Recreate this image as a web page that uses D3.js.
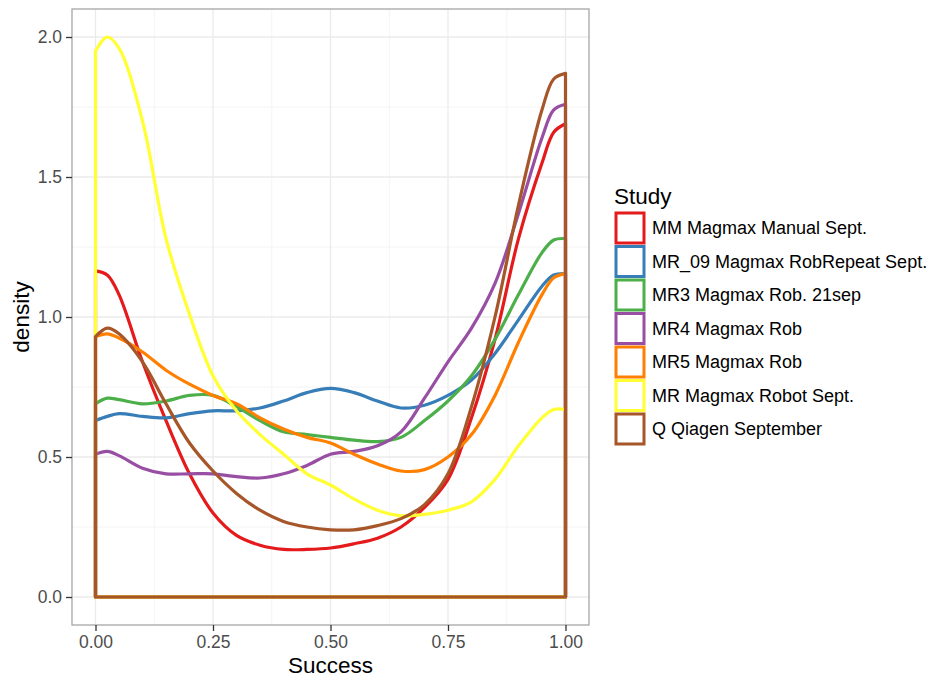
<!DOCTYPE html>
<html>
<head>
<meta charset="utf-8">
<script src="https://cdn.jsdelivr.net/npm/d3@7"></script>
<style>
  body { margin: 0; background: #fff; }
  svg { display: block; font-family: 'Liberation Sans', Arial, sans-serif; }
</style>
</head>
<body>
<svg id="chart" width="930" height="680"></svg>
<script>
// density estimates, one array per study
const successX = [0, 0.025, 0.05, 0.1, 0.15, 0.2, 0.25, 0.3, 0.35, 0.4, 0.45, 0.5, 0.55, 0.6, 0.65, 0.7, 0.75, 0.8, 0.85, 0.9, 0.95, 0.975, 1]

const studies = ['MM Magmax Manual Sept.', 'MR_09 Magmax RobRepeat Sept.', 'MR3 Magmax Rob. 21sep',
  'MR4 Magmax Rob', 'MR5 Magmax Rob', 'MR Magmax Robot Sept.', 'Q Qiagen September']

const densityMM = [1.165, 1.15, 1.08, 0.84, 0.63, 0.44, 0.30, 0.22, 0.185, 0.17, 0.17, 0.175, 0.19, 0.21, 0.25, 0.32, 0.42, 0.64, 0.92, 1.28, 1.55, 1.66, 1.69]
const densityMR09 = [0.63, 0.645, 0.655, 0.645, 0.64, 0.655, 0.665, 0.665, 0.675, 0.70, 0.73, 0.745, 0.73, 0.70, 0.675, 0.685, 0.72, 0.775, 0.87, 0.99, 1.11, 1.15, 1.155]
const densityMR3 = [0.69, 0.71, 0.705, 0.69, 0.70, 0.72, 0.72, 0.68, 0.63, 0.59, 0.58, 0.57, 0.56, 0.555, 0.57, 0.63, 0.70, 0.79, 0.92, 1.08, 1.23, 1.275, 1.28]
const densityMR4 = [0.51, 0.52, 0.505, 0.46, 0.44, 0.44, 0.44, 0.43, 0.425, 0.44, 0.47, 0.51, 0.52, 0.54, 0.59, 0.71, 0.84, 0.96, 1.12, 1.37, 1.64, 1.74, 1.76]
const densityMR5 = [0.93, 0.94, 0.925, 0.875, 0.81, 0.76, 0.72, 0.69, 0.64, 0.60, 0.57, 0.55, 0.51, 0.475, 0.45, 0.455, 0.50, 0.58, 0.72, 0.91, 1.08, 1.14, 1.155]
const densityMR = [1.95, 2.0, 1.96, 1.70, 1.28, 1.01, 0.79, 0.665, 0.58, 0.51, 0.44, 0.40, 0.35, 0.31, 0.29, 0.295, 0.31, 0.34, 0.42, 0.54, 0.64, 0.67, 0.67]
const densityQ = [0.93, 0.96, 0.94, 0.84, 0.69, 0.55, 0.45, 0.37, 0.31, 0.27, 0.25, 0.24, 0.24, 0.255, 0.28, 0.33, 0.44, 0.68, 1.0, 1.40, 1.74, 1.85, 1.87]

const xTicks = [0, 0.25, 0.5, 0.75, 1]
const yTicks = [0, 0.5, 1, 1.5, 2]
const colors = ['#E41A1C', '#377EB8', '#4DAF4A', '#984EA3', '#FF7F00', '#FFFF33', '#A65628']

const series = [densityMM, densityMR09, densityMR3, densityMR4, densityMR5, densityMR, densityQ]

const panel = { left: 72, top: 9, right: 589, bottom: 625 }

const svg = d3.select('#chart')

const x = d3.scaleLinear().domain([-0.05, 1.05]).range([panel.left, panel.right])
const y = d3.scaleLinear().domain([-0.1, 2.1]).range([panel.bottom, panel.top])

// grid
const grid = svg.append('g')
const minorX = d3.range(0, 4).map((i) => i * 0.25 + 0.125)
const minorY = d3.range(0, 4).map((i) => i * 0.5 + 0.25)

grid.selectAll('.minor-x').data(minorX).join('line')
  .attr('x1', (d) => x(d)).attr('x2', (d) => x(d))
  .attr('y1', panel.top).attr('y2', panel.bottom)
  .attr('stroke', '#f4f4f4').attr('stroke-width', 1)
grid.selectAll('.minor-y').data(minorY).join('line')
  .attr('y1', (d) => y(d)).attr('y2', (d) => y(d))
  .attr('x1', panel.left).attr('x2', panel.right)
  .attr('stroke', '#f4f4f4').attr('stroke-width', 1)
grid.selectAll('.major-x').data(xTicks).join('line')
  .attr('x1', (d) => x(d)).attr('x2', (d) => x(d))
  .attr('y1', panel.top).attr('y2', panel.bottom)
  .attr('stroke', '#ebebeb').attr('stroke-width', 1.3)
grid.selectAll('.major-y').data(yTicks).join('line')
  .attr('y1', (d) => y(d)).attr('y2', (d) => y(d))
  .attr('x1', panel.left).attr('x2', panel.right)
  .attr('stroke', '#ebebeb').attr('stroke-width', 1.3)

// density outlines: (0,0) up, along the curve, down to (1,0), closed
const curve = d3.line()
  .x((d) => x(d[0]))
  .y((d) => y(d[1]))
  .curve(d3.curveCatmullRom.alpha(0.5))

const outline = (values) => {
  const pts = successX.map((s, i) => [s, values[i]])
  const body = curve(pts).replace(/^M/, 'L')
  return `M${x(0)},${y(0)}${body}L${x(1)},${y(0)}Z`
}

svg.append('g')
  .selectAll('path')
  .data(series)
  .join('path')
  .attr('d', (d) => outline(d))
  .attr('fill', 'none')
  .attr('stroke', (d, i) => colors[i])
  .attr('stroke-width', 3.2)
  .attr('stroke-linejoin', 'round')

// panel border
svg.append('rect')
  .attr('x', panel.left).attr('y', panel.top)
  .attr('width', panel.right - panel.left).attr('height', panel.bottom - panel.top)
  .attr('fill', 'none').attr('stroke', '#a6a6a6').attr('stroke-width', 1.3)

// axes
const axisX = svg.append('g')
  .attr('transform', `translate(0, ${panel.bottom})`)
  .call(d3.axisBottom(x).tickValues(xTicks).tickFormat(d3.format('.2f')).tickSize(6).tickPadding(5))
const axisY = svg.append('g')
  .attr('transform', `translate(${panel.left}, 0)`)
  .call(d3.axisLeft(y).tickValues(yTicks).tickFormat(d3.format('.1f')).tickSize(6).tickPadding(4))

for (const a of [axisX, axisY]) {
  a.select('.domain').remove()
  a.selectAll('.tick line').attr('stroke', '#333').attr('stroke-width', 1.3)
  a.selectAll('.tick text')
    .attr('fill', '#4d4d4d')
    .style('font-size', '17.5px')
    .style('font-family', "'Liberation Sans', Arial, sans-serif")
}

svg.append('text')
  .attr('x', (panel.left + panel.right) / 2)
  .attr('y', 673)
  .attr('text-anchor', 'middle')
  .style('font-size', '22.5px')
  .text('Success')

svg.append('text')
  .attr('transform', `translate(29, ${(panel.top + panel.bottom) / 2}) rotate(-90)`)
  .attr('text-anchor', 'middle')
  .style('font-size', '22.5px')
  .text('density')

// legend
const legend = svg.append('g')

legend.append('text')
  .attr('x', 614)
  .attr('y', 204)
  .style('font-size', '22.5px')
  .text('Study')

const item = legend.selectAll('.item')
  .data(studies)
  .join('g')
  .attr('transform', (d, i) => `translate(616, ${213 + i * 33.5})`)

item.append('rect')
  .attr('width', 28)
  .attr('height', 30)
  .attr('fill', '#fff')
  .attr('stroke', (d, i) => colors[i])
  .attr('stroke-width', 3)

item.append('text')
  .attr('x', 36)
  .attr('y', 15)
  .attr('dy', '0.35em')
  .style('font-size', '18px')
  .text((d) => d)
</script>
</body>
</html>
